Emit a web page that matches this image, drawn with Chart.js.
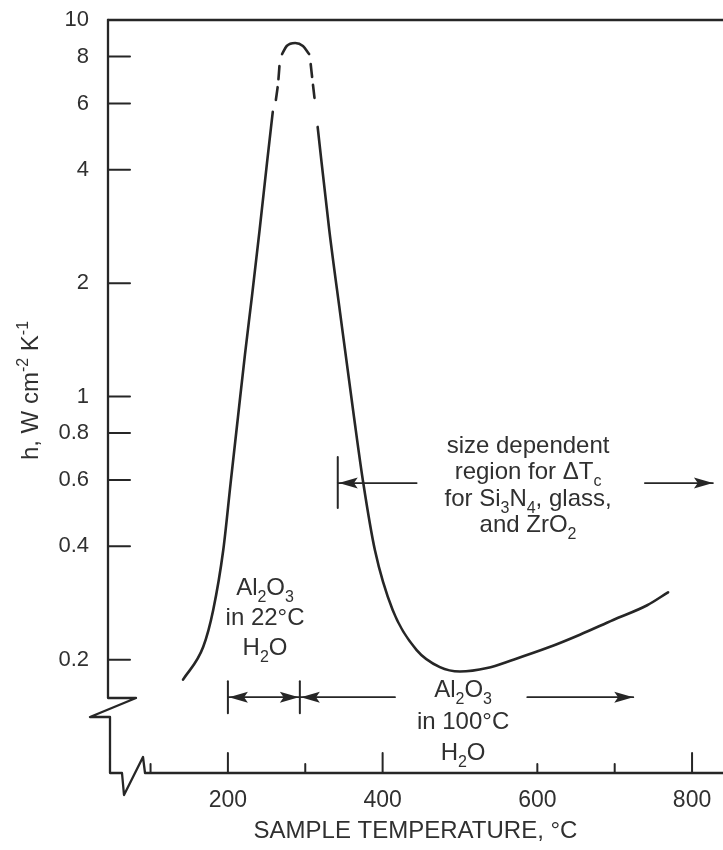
<!DOCTYPE html>
<html><head><meta charset="utf-8">
<script src="https://cdn.jsdelivr.net/npm/chart.js@4.4.1/dist/chart.umd.min.js"></script>
<style>html,body{margin:0;padding:0;background:#fff;}canvas{display:block;}</style>
</head><body>
<canvas id="c" width="723" height="850"></canvas>
<script>
// ---------- data (temperature °C, h in W cm^-2 K^-1) ----------
const leftSolidT  = [142, 168, 181, 194, 203.5, 213, 222, 231, 241, 250.5, 258];
const leftSolidH  = [0.177, 0.216, 0.271, 0.391, 0.589, 0.882, 1.29, 1.84, 2.77, 4.17, 5.70];
const leftDashT   = [262, 265, 267];
const leftDashH   = [6.13, 6.84, 7.73];
const peakT       = [270, 276, 287, 297, 305];
const peakH       = [8.12, 8.53, 8.69, 8.53, 8.12];
const rightDashT  = [307, 310, 313];
const rightDashH  = [7.64, 6.72, 5.95];
const rightSolidT = [316, 331, 345, 363, 375, 390, 413, 444, 474, 500, 535, 569, 613, 655, 698, 742, 769];
const rightSolidH = [5.20, 2.77, 1.67, 0.882, 0.589, 0.391, 0.271, 0.212, 0.191, 0.186, 0.190, 0.200, 0.215, 0.233, 0.255, 0.279, 0.302];

const yTickValues = [0.2, 0.4, 0.6, 0.8, 1, 2, 4, 6, 8, 10];
const yTickLabels = ['0.2', '0.4', '0.6', '0.8', '1', '2', '4', '6', '8', '10'];
const xLabelValues = [200, 400, 600, 800];
const xLabelTexts  = ['200', '400', '600', '800'];
const xTickMarks   = [100, 200, 300, 400, 600, 700, 800];
const xLongTicks   = [200, 400, 800];

// annotation texts
const label22   = ['Al_{2}O_{3}', 'in 22°C', 'H_{2}O'];
const label100  = ['Al_{2}O_{3}', 'in 100°C', 'H_{2}O'];
const labelSize = ['size dependent', 'region for ΔT_{c}', 'for Si_{3}N_{4}, glass,', 'and ZrO_{2}'];
const yTitle = 'h, W cm^{-2} K^{-1}';
const xTitle = 'SAMPLE TEMPERATURE, °C';

// annotation placement (data units)
const lowRowH = 0.159;
const span22  = {from: 200, to: 293};
const span100 = {from: 293, to: 724, gapFrom: 416, gapTo: 587};
const sizeRowH = 0.589;
const spanSize = {from: 342, to: 827, gapFrom: 444, gapTo: 739};
const label22Pos   = {t: 248, h: 0.297, lh: 30};
const label100Pos  = {t: 504, h: 0.159, lh: 31.5};
const labelSizePos = {t: 588, h: 0.708, lh: 26.5};

// ---------- styling ----------
const INK = '#262626';
const TXT = '#303030';
const FAM = '"Liberation Sans", Arial, Helvetica, sans-serif';

function pts(T, H) { return T.map((t, i) => ({x: t, y: H[i]})); }
function ds(T, H, dash) {
  return {data: pts(T, H), borderColor: INK, borderWidth: 2.6, pointRadius: 0,
    cubicInterpolationMode: 'monotone', fill: false, borderDash: dash || [], borderCapStyle: 'round'};
}

function rich(ctx, str, cx, by, size) {
  const parts = []; const re = /([_^])\{([^}]*)\}/g; let last = 0, m;
  while ((m = re.exec(str))) {
    if (m.index > last) parts.push({t: str.slice(last, m.index), k: ''});
    parts.push({t: m[2], k: m[1]}); last = re.lastIndex;
  }
  if (last < str.length) parts.push({t: str.slice(last), k: ''});
  const sub = Math.round(size * 0.68);
  let w = 0;
  for (const p of parts) { ctx.font = (p.k ? sub : size) + 'px ' + FAM; p.w = ctx.measureText(p.t).width; w += p.w; }
  let xx = cx - w / 2;
  for (const p of parts) {
    ctx.font = (p.k ? sub : size) + 'px ' + FAM;
    const dy = p.k === '_' ? size * 0.28 : (p.k === '^' ? -size * 0.42 : 0);
    ctx.fillText(p.t, xx, by + dy); xx += p.w;
  }
}
function head(ctx, x, y, dir) {
  const L = 19, W = 5.5;
  ctx.beginPath();
  ctx.moveTo(x, y);
  ctx.lineTo(x - dir * L, y - W);
  ctx.lineTo(x - dir * L * 0.8, y);
  ctx.lineTo(x - dir * L, y + W);
  ctx.closePath(); ctx.fill();
}
function seg(ctx, x1, y1, x2, y2) { ctx.beginPath(); ctx.moveTo(x1, y1); ctx.lineTo(x2, y2); ctx.stroke(); }

const deco = {
  id: 'deco',
  afterDatasetsDraw(chart) {
    const {ctx, chartArea: a, scales: {x, y}} = chart;
    ctx.save();
    ctx.strokeStyle = INK; ctx.fillStyle = INK; ctx.lineWidth = 2.3;
    ctx.lineCap = 'round'; ctx.lineJoin = 'round';
    // frame top
    seg(ctx, a.left, a.top, a.right, a.top);
    // axes with breaks
    ctx.beginPath();
    ctx.moveTo(a.left, a.top);
    ctx.lineTo(a.left, a.bottom - 75);
    ctx.lineTo(a.left + 28, a.bottom - 75);
    ctx.lineTo(a.left - 18, a.bottom - 56);
    ctx.lineTo(a.left + 2, a.bottom - 56);
    ctx.lineTo(a.left + 2, a.bottom);
    ctx.lineTo(a.left + 14, a.bottom);
    ctx.lineTo(a.left + 16, a.bottom + 22);
    ctx.lineTo(a.left + 35, a.bottom - 16);
    ctx.lineTo(a.left + 37, a.bottom);
    ctx.lineTo(a.right, a.bottom);
    ctx.stroke();
    // y ticks (inward)
    ctx.lineWidth = 2;
    yTickValues.forEach(v => { if (v < y.max) { const py = y.getPixelForValue(v); seg(ctx, a.left, py, a.left + 22, py); } });
    // x ticks (inward)
    xTickMarks.forEach(v => { const px = x.getPixelForValue(v); const L = xLongTicks.includes(v) ? 20 : 9; seg(ctx, px, a.bottom, px, a.bottom - L); });

    // low arrows
    let py = y.getPixelForValue(lowRowH);
    const b1 = x.getPixelForValue(span22.from), b2 = x.getPixelForValue(span22.to);
    seg(ctx, b1, py - 16, b1, py + 16);
    seg(ctx, b2, py - 16, b2, py + 16);
    ctx.lineWidth = 1.8;
    seg(ctx, b1, py, b2, py);
    head(ctx, b1 + 1, py, -1); head(ctx, b2 - 1, py, 1);
    head(ctx, b2 + 1, py, -1);
    seg(ctx, b2, py, x.getPixelForValue(span100.gapFrom), py);
    const e100 = x.getPixelForValue(span100.to);
    seg(ctx, x.getPixelForValue(span100.gapTo), py, e100, py);
    head(ctx, e100, py, 1);

    // size-dependent arrow
    py = y.getPixelForValue(sizeRowH);
    const bs = x.getPixelForValue(spanSize.from);
    ctx.lineWidth = 2;
    seg(ctx, bs, py - 26, bs, py + 25);
    ctx.lineWidth = 1.8;
    seg(ctx, bs, py, x.getPixelForValue(spanSize.gapFrom), py);
    head(ctx, bs + 1, py, -1);
    const es = x.getPixelForValue(spanSize.to);
    seg(ctx, x.getPixelForValue(spanSize.gapTo), py, es, py);
    head(ctx, es, py, 1);

    // texts
    ctx.fillStyle = TXT; ctx.textAlign = 'left'; ctx.textBaseline = 'alphabetic';
    const block = (lines, pos, size) => {
      const cx = x.getPixelForValue(pos.t), by = y.getPixelForValue(pos.h);
      lines.forEach((s, i) => rich(ctx, s, cx, by + i * pos.lh, size));
    };
    block(label22, label22Pos, 24);
    block(label100, label100Pos, 24);
    block(labelSize, labelSizePos, 24);

    // y title
    ctx.save();
    ctx.translate(38, (a.top + a.bottom) / 2 - 6);
    ctx.rotate(-Math.PI / 2);
    rich(ctx, yTitle, 0, 0, 24);
    ctx.restore();
    ctx.restore();
  }
};

new Chart(document.getElementById('c'), {
  type: 'line',
  data: {datasets: [
    ds(leftSolidT, leftSolidH),
    ds(leftDashT, leftDashH, [13, 8]),
    ds(peakT, peakH),
    ds(rightDashT, rightDashH, [13, 8]),
    ds(rightSolidT, rightSolidH)
  ]},
  options: {
    responsive: false, animation: false, devicePixelRatio: 1,
    layout: {padding: {top: 20, right: 0, left: 0, bottom: 0}},
    plugins: {legend: {display: false}, tooltip: {enabled: false}},
    scales: {
      x: {
        type: 'linear', min: 45, max: 840, position: 'bottom',
        grid: {display: false, drawTicks: false}, border: {display: false},
        afterBuildTicks: s => { s.ticks = xLabelValues.map(v => ({value: v})); },
        afterFit: s => { s.height = 77; s.paddingLeft = 0; s.paddingRight = 0; },
        ticks: {autoSkip: false, maxRotation: 0, padding: 14, color: TXT,
          font: {family: FAM, size: 23},
          callback: (v) => { const i = xLabelValues.indexOf(v); return i >= 0 ? xLabelTexts[i] : ''; }},
        title: {display: true, text: xTitle, color: TXT, font: {family: FAM, size: 24}, padding: {top: 2, bottom: 4}}
      },
      y: {
        type: 'logarithmic', min: 0.1, max: 10, position: 'left',
        grid: {display: false, drawTicks: false}, border: {display: false},
        afterBuildTicks: s => { s.ticks = yTickValues.map(v => ({value: v})); },
        afterFit: s => { s.width = 108; s.paddingTop = 0; s.paddingBottom = 0; },
        ticks: {autoSkip: false, padding: 19, color: TXT, font: {family: FAM, size: 22},
          callback: (v) => { const i = yTickValues.indexOf(v); return i >= 0 ? yTickLabels[i] : ''; }}
      }
    }
  },
  plugins: [deco]
});
</script>
</body></html>
